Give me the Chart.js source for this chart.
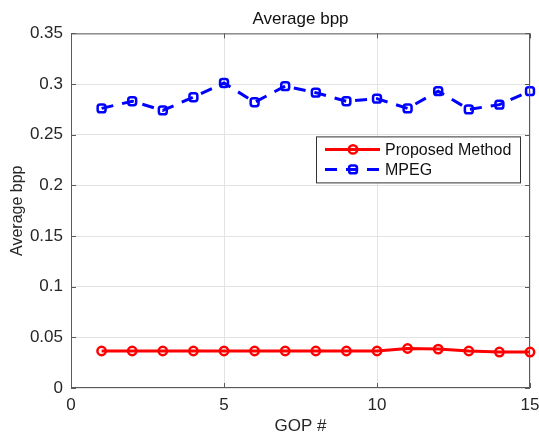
<!DOCTYPE html>
<html>
<head>
<meta charset="utf-8">
<script src="https://cdn.jsdelivr.net/npm/chart.js@4"></script>
<style>
  html, body { margin: 0; padding: 0; background: #fff; }
  #wrap { width: 539px; height: 437px; }
</style>
</head>
<body>
<div id="wrap"><canvas id="bppChart" width="539" height="437"></canvas></div>
<script>
let gop = [1, 2, 3, 4, 5, 6, 7, 8, 9, 10, 11, 12, 13, 14, 15];
let proposed = [0.0365, 0.0365, 0.0365, 0.0365, 0.0365, 0.0365, 0.0365, 0.0365, 0.0365, 0.0365, 0.039, 0.0384, 0.0365, 0.0355, 0.0355];
let mpeg = [0.276, 0.283, 0.274, 0.287, 0.301, 0.282, 0.298, 0.2915, 0.283, 0.2856, 0.276, 0.293, 0.275, 0.2797, 0.293];
let xTicks = [0, 5, 10, 15];
let yTicks = [0, 0.05, 0.1, 0.15, 0.2, 0.25, 0.3, 0.35];
let chartTitle = "Average bpp";

const axisColor = "#262626";
const font = "Liberation Sans, Arial, sans-serif";

function toPoints(xs, ys) {
    return xs.map((x, i) => ({ x: x, y: ys[i] }));
}

// box round the axes with inward ticks, like matlab
const boxPlugin = {
    id: "box",
    afterDatasetsDraw(chart) {
        const ctx = chart.ctx;
        const a = chart.chartArea;
        const xs = chart.scales.x;
        const ys = chart.scales.y;
        ctx.save();
        ctx.strokeStyle = "#5a5a5a";
        ctx.lineWidth = 1;
        ctx.strokeRect(a.left + 0.5, a.top + 0.5, a.right - a.left - 1, a.bottom - a.top - 1);
        ctx.beginPath();
        xTicks.forEach(v => {
            const px = Math.round(xs.getPixelForValue(v)) + 0.5;
            ctx.moveTo(px, a.bottom); ctx.lineTo(px, a.bottom - 5);
            ctx.moveTo(px, a.top); ctx.lineTo(px, a.top + 5);
        });
        yTicks.forEach(v => {
            const py = Math.round(ys.getPixelForValue(v)) + 0.5;
            ctx.moveTo(a.left, py); ctx.lineTo(a.left + 5, py);
            ctx.moveTo(a.right, py); ctx.lineTo(a.right - 5, py);
        });
        ctx.stroke();

        // title centred over the axes, not the canvas
        ctx.fillStyle = "#111";
        ctx.font = "17px " + font;
        ctx.textAlign = "center";
        ctx.textBaseline = "middle";
        ctx.fillText(chartTitle, (a.left + a.right) / 2, 19);
        ctx.restore();
    }
};

// legend sits inside the plot, top right
const innerLegend = {
    id: "innerLegend",
    afterDraw(chart) {
        const ctx = chart.ctx;
        const a = chart.chartArea;
        const x0 = a.right - 214, y0 = a.top + 103, w = 204, h = 46;
        ctx.save();
        ctx.fillStyle = "#fff";
        ctx.fillRect(x0, y0, w, h);
        ctx.strokeStyle = "#333";
        ctx.lineWidth = 1;
        ctx.strokeRect(x0 + 0.5, y0 + 0.5, w, h);
        chart.data.datasets.forEach((ds, i) => {
            const y = y0 + 13 + i * 20;
            ctx.strokeStyle = ds.borderColor;
            ctx.lineWidth = 3;
            ctx.setLineDash(ds.borderDash || []);
            ctx.beginPath();
            ctx.moveTo(x0 + 9, y);
            ctx.lineTo(x0 + 64, y);
            ctx.stroke();
            ctx.setLineDash([]);
            ctx.lineWidth = ds.pointBorderWidth;
            ctx.fillStyle = "rgba(0,0,0,0)";
            Chart.helpers.drawPoint(ctx, {
                pointStyle: ds.pointStyle,
                radius: ds.pointRadius,
                borderWidth: ds.pointBorderWidth
            }, x0 + 37, y);
            ctx.fillStyle = "#111";
            ctx.font = "16px " + font;
            ctx.textBaseline = "middle";
            ctx.fillText(ds.label, x0 + 69, y + 1);
        });
        ctx.restore();
    }
};

new Chart(document.getElementById("bppChart"), {
    type: "line",
    data: {
        datasets: [{
            label: "Proposed Method",
            data: toPoints(gop, proposed),
            borderColor: "#ff0000",
            backgroundColor: "#fff",
            borderWidth: 3,
            pointStyle: "circle",
            pointRadius: 4.2,
            pointBorderWidth: 2.5,
            pointBackgroundColor: "rgba(0,0,0,0)",
            pointBorderColor: "#ff0000",
            clip: false,
            tension: 0
        }, {
            label: "MPEG",
            data: toPoints(gop, mpeg),
            borderColor: "#0000ff",
            backgroundColor: "#fff",
            borderWidth: 3,
            borderDash: [12, 9],
            pointStyle: "rectRounded",
            pointRadius: 4.6,
            pointBorderWidth: 2.5,
            pointBackgroundColor: "rgba(0,0,0,0)",
            pointBorderColor: "#0000ff",
            clip: false,
            tension: 0
        }]
    },
    options: {
        responsive: false,
        animation: false,
        layout: { padding: { top: 0, right: 9, left: 0, bottom: 0 } },
        plugins: {
            legend: { display: false },
            tooltip: { enabled: false },
            title: {
                display: true,
                text: chartTitle,
                color: "rgba(0,0,0,0)",
                font: { family: font, size: 17, weight: "normal" },
                padding: { top: 8, bottom: 5 }
            }
        },
        scales: {
            x: {
                type: "linear",
                min: 0,
                max: 15,
                afterBuildTicks(scale) { scale.ticks = xTicks.map(v => ({ value: v })); },
                afterFit(scale) { scale.height = 49; scale.paddingLeft = 0; scale.paddingRight = 0; },
                grid: { color: "#e3e3e3", drawTicks: false, drawOnChartArea: true },
                border: { display: false },
                ticks: { color: axisColor, font: { family: font, size: 17 }, padding: 7 },
                title: { display: true, text: "GOP #", color: axisColor, font: { family: font, size: 17 }, padding: { top: 3, bottom: 0 } }
            },
            y: {
                min: 0,
                max: 0.35,
                afterBuildTicks(scale) { scale.ticks = yTicks.map(v => ({ value: v })); },
                afterFit(scale) { scale.width = 71; scale.paddingTop = 0; scale.paddingBottom = 0; },
                grid: { color: "#e3e3e3", drawTicks: false },
                border: { display: false },
                ticks: {
                    color: axisColor,
                    font: { family: font, size: 17 },
                    padding: 8,
                    callback: v => String(+v.toFixed(2))
                },
                title: { display: true, text: "Average bpp", color: axisColor, font: { family: font, size: 16 }, padding: { top: 8, bottom: 0 } }
            }
        }
    },
    plugins: [boxPlugin, innerLegend]
});
</script>
</body>
</html>
